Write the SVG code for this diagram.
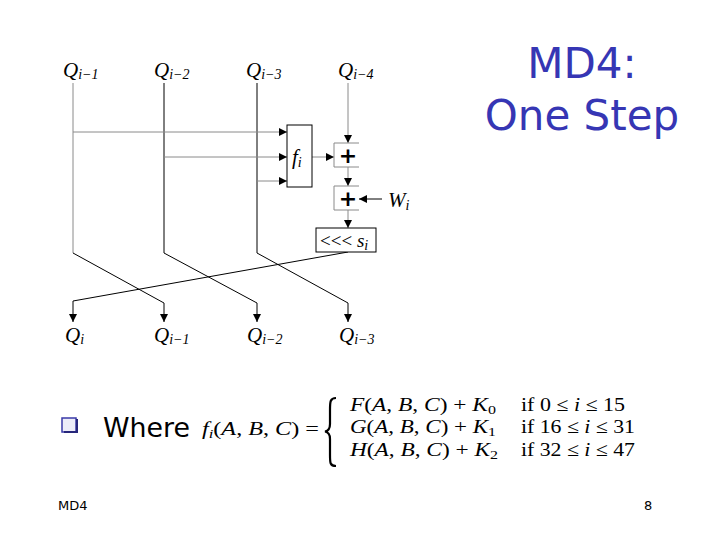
<svg xmlns="http://www.w3.org/2000/svg" width="720" height="540" viewBox="0 0 720 540">
<style>
.ln{fill:none;stroke:#000;stroke-width:1}
.gl{fill:none;stroke:#8a8a8a;stroke-width:1}
.bx{fill:#fff;stroke:#000;stroke-width:1}
.q{font-family:"Liberation Serif",serif;font-style:italic;font-size:21px;fill:#000}
.sub{font-family:"Liberation Serif",serif;font-size:14px;fill:#000}
.m{font-family:"Liberation Serif",serif;font-size:19px;fill:#000}
.ms{font-family:"Liberation Serif",serif;font-size:13px}
.title{font-family:"DejaVu Sans",sans-serif;font-size:42px;fill:#3636b4;text-anchor:middle}
.plus{font-family:"DejaVu Sans",sans-serif;font-weight:bold;font-size:22px;fill:#000;text-anchor:middle}
</style>
<defs>
<marker id="ah" viewBox="0 0 10 10" refX="10" refY="5" markerWidth="8" markerHeight="8" markerUnits="userSpaceOnUse" orient="auto">
<path d="M0,0 L10,5 L0,10 Z" fill="#000"/>
</marker>
</defs>
<rect width="720" height="540" fill="#fff"/>

<g id="title">
<text class="title" x="582" y="78">MD4:</text>
<text class="title" x="582" y="130">One Step</text>
</g>

<g id="labels-top">
<text class="q" x="63" y="77">Q<tspan class="sub" dy="2">i−1</tspan></text>
<text class="q" x="154" y="77">Q<tspan class="sub" dy="2">i−2</tspan></text>
<text class="q" x="246" y="77">Q<tspan class="sub" dy="2">i−3</tspan></text>
<text class="q" x="338" y="77">Q<tspan class="sub" dy="2">i−4</tspan></text>
</g>

<g id="connectors">
<path class="gl" d="M73,83 V253"/>
<path class="ln" d="M164,83 V253"/>
<path class="ln" d="M257,83 V253"/>
<path class="gl" d="M348,83 V143" marker-end="url(#ah)"/>
<path class="gl" d="M73,132 H287" marker-end="url(#ah)"/>
<path class="gl" d="M164,157 H287" marker-end="url(#ah)"/>
<path class="gl" d="M257,181 H287" marker-end="url(#ah)"/>
<path class="gl" d="M312,157 H334" marker-end="url(#ah)"/>
<path class="gl" d="M348,167 V186" marker-end="url(#ah)"/>
<path class="ln" d="M382,199 H359" marker-end="url(#ah)"/>
<path class="gl" d="M348,210 V228" marker-end="url(#ah)"/>
<path class="ln" d="M348,252 L73,301 V322" marker-end="url(#ah)"/>
<path class="ln" d="M73,253 L164,303 V322" marker-end="url(#ah)"/>
<path class="ln" d="M164,253 L257,303 V322" marker-end="url(#ah)"/>
<path class="ln" d="M257,253 L348,303 V322" marker-end="url(#ah)"/>
</g>

<g id="f-box">
<rect class="bx" x="287" y="125" width="25" height="62"/>
<text class="q" x="292" y="164">f<tspan class="sub" font-style="italic" dy="3">i</tspan></text>
</g>

<g id="adder1">
<path class="gl" d="M359,143 H334 V167 H359"/>
<text class="plus" x="348" y="163">+</text>
</g>

<g id="adder2">
<path class="gl" d="M359,186 H334 V210 H359"/>
<text class="plus" x="348" y="206">+</text>
</g>

<g id="w-label">
<text class="q" x="388" y="207">W<tspan class="sub" dy="3" font-style="italic">i</tspan></text>
</g>

<g id="rotate-box">
<rect class="bx" x="316" y="228" width="60" height="24"/>
<text class="m" x="320" y="247" font-size="18">&lt;&lt;&lt; <tspan font-style="italic">s</tspan><tspan class="sub" font-style="italic" dy="3">i</tspan></text>
</g>

<g id="labels-bottom">
<text class="q" x="65" y="342">Q<tspan class="sub" font-style="italic" dy="2">i</tspan></text>
<text class="q" x="154" y="342">Q<tspan class="sub" dy="2">i−1</tspan></text>
<text class="q" x="247" y="342">Q<tspan class="sub" dy="2">i−2</tspan></text>
<text class="q" x="339" y="342">Q<tspan class="sub" dy="2">i−3</tspan></text>
</g>

<g id="where">
<rect x="62" y="418" width="14" height="14" fill="#ececf8" stroke="#3a3aa8" stroke-width="1.5"/>
<path d="M64,432 H77 V419" fill="none" stroke="#26267a" stroke-width="2"/>
<text x="103" y="437" font-family="DejaVu Sans, sans-serif" font-size="27" textLength="87" lengthAdjust="spacingAndGlyphs" fill="#000">Where</text>
</g>

<g id="formula">
<text class="m" x="202" y="435" textLength="117" lengthAdjust="spacingAndGlyphs"><tspan font-style="italic">f</tspan><tspan class="ms" font-style="italic" dy="3">i</tspan><tspan dy="-3">(</tspan><tspan font-style="italic">A</tspan>, <tspan font-style="italic">B</tspan>, <tspan font-style="italic">C</tspan>) =</text>
<path d="M336,398 C330,398 330,402 330,410 L330,424 C330,429 328,431 325,431.5 C328,432 330,434 330,439 L330,455 C330,463 330,466 336,466" fill="none" stroke="#000" stroke-width="2.2"/>
<text class="m" x="350" y="411" textLength="146" lengthAdjust="spacingAndGlyphs"><tspan font-style="italic">F</tspan>(<tspan font-style="italic">A</tspan>, <tspan font-style="italic">B</tspan>, <tspan font-style="italic">C</tspan>) + <tspan font-style="italic">K</tspan><tspan class="ms" dy="3">0</tspan></text>
<text class="m" x="350" y="433" textLength="146" lengthAdjust="spacingAndGlyphs"><tspan font-style="italic">G</tspan>(<tspan font-style="italic">A</tspan>, <tspan font-style="italic">B</tspan>, <tspan font-style="italic">C</tspan>) + <tspan font-style="italic">K</tspan><tspan class="ms" dy="3">1</tspan></text>
<text class="m" x="350" y="456" textLength="148" lengthAdjust="spacingAndGlyphs"><tspan font-style="italic">H</tspan>(<tspan font-style="italic">A</tspan>, <tspan font-style="italic">B</tspan>, <tspan font-style="italic">C</tspan>) + <tspan font-style="italic">K</tspan><tspan class="ms" dy="3">2</tspan></text>
<text class="m" x="521" y="411" textLength="104" lengthAdjust="spacingAndGlyphs">if 0 ≤ <tspan font-style="italic">i</tspan> ≤ 15</text>
<text class="m" x="521" y="433" textLength="114" lengthAdjust="spacingAndGlyphs">if 16 ≤ <tspan font-style="italic">i</tspan> ≤ 31</text>
<text class="m" x="521" y="456" textLength="114" lengthAdjust="spacingAndGlyphs">if 32 ≤ <tspan font-style="italic">i</tspan> ≤ 47</text>
</g>

<g id="footer">
<text x="58" y="510" font-family="DejaVu Sans, sans-serif" font-size="13" fill="#000">MD4</text>
<text x="644" y="510" font-family="DejaVu Sans, sans-serif" font-size="13" fill="#000">8</text>
</g>
</svg>
